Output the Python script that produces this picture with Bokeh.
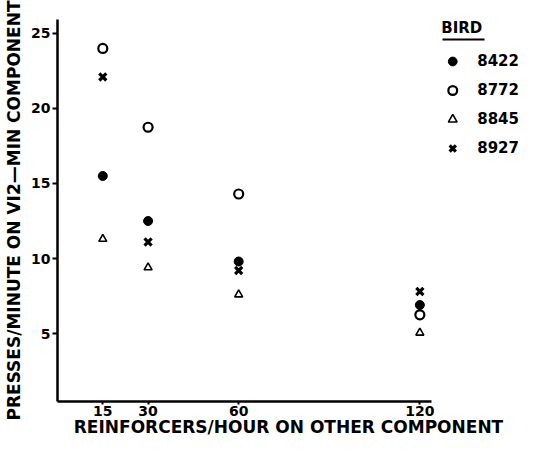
from bokeh.plotting import figure
from bokeh.models import (Range1d, LinearAxis, FixedTicker, Legend, LegendItem, BoxAnnotation)
from bokeh.embed import file_html
from bokeh.resources import INLINE

# ---- data ----
rates = [15, 30, 60, 120]
bird_8422 = [15.5, 12.5, 9.8, 6.9]
bird_8772 = [24.0, 18.75, 14.3, 6.25]
bird_8845 = [11.3, 9.4, 7.6, 5.05]
bird_8927 = [22.1, 11.1, 9.2, 7.8]
x_ticks = [15, 30, 60, 120]
y_ticks = [5, 10, 15, 20, 25]
bird_names = ["8422", "8772", "8845", "8927"]
x_title = "REINFORCERS/HOUR ON OTHER COMPONENT"
y_title = "PRESSES/MINUTE ON VI2\u2014MIN COMPONENT"

FONT = "DejaVu Sans"

p = figure(width=519, height=440, output_backend="svg", toolbar_location=None,
           x_range=Range1d(0, 153), y_range=Range1d(0.47, 25.93),
           x_axis_type=None, y_axis_type=None,
           min_border_left=57, min_border_right=0, min_border_top=19, min_border_bottom=39)
p.outline_line_color = None
p.xgrid.visible = False
p.ygrid.visible = False

xaxis = LinearAxis(bounds=(0, 124), ticker=FixedTicker(ticks=x_ticks), axis_label=x_title)
yaxis = LinearAxis(ticker=FixedTicker(ticks=y_ticks), axis_label=y_title)
for ax in (xaxis, yaxis):
    ax.axis_line_width = 2.5
    ax.axis_line_color = "black"
    ax.minor_tick_line_color = None
    ax.major_tick_in = 0
    ax.major_tick_line_width = 2
    ax.major_label_text_font = FONT
    ax.major_label_text_font_style = "bold"
    ax.major_label_text_font_size = "14px"
    ax.major_label_text_color = "black"
    ax.major_label_text_line_height = 1.0
    ax.axis_label_text_font = FONT
    ax.axis_label_text_font_style = "bold"
    ax.axis_label_text_color = "black"
    ax.axis_label_text_line_height = 1.0
yaxis.axis_label_text_font_size = "17px"
yaxis.axis_label_standoff = 4
xaxis.axis_label_text_font_size = "17px"
xaxis.axis_label_standoff = -2
xaxis.major_tick_out = 3
xaxis.major_label_standoff = 1
yaxis.major_tick_out = 5
yaxis.major_label_standoff = 2
p.add_layout(xaxis, "below")
p.add_layout(yaxis, "left")

r1 = p.scatter(rates, bird_8422, marker="circle", size=9, fill_color="black", line_color="black")
r2 = p.scatter(rates, bird_8772, marker="circle", size=9, fill_color="white", line_color="black", line_width=2.2)
r3 = p.scatter(rates, bird_8845, marker="triangle", size=8, fill_color=None, line_color="black", line_width=1.6)
r4 = p.scatter(rates, bird_8927, marker="x", size=10, line_color="black", line_width=3.2)

legend = Legend(items=[LegendItem(label=n, renderers=[r]) for n, r in
                       zip(bird_names, [r1, r2, r3, r4])],
                location="top_right", title="BIRD")
legend.margin = 0
legend.padding = 2
legend.border_line_color = None
legend.background_fill_alpha = 0
legend.title_text_font = FONT
legend.title_text_font_style = "bold"
legend.title_text_font_size = "15px"
legend.title_text_color = "black"
legend.title_standoff = 13
legend.label_text_font = FONT
legend.label_text_font_style = "bold"
legend.label_text_font_size = "15px"
legend.label_text_color = "black"
legend.glyph_width = 22
legend.glyph_height = 22
legend.label_height = 22
legend.label_standoff = 14
legend.spacing = 7
p.add_layout(legend)

# underline of the legend title (screen units, relative to the plot frame)
p.add_layout(BoxAnnotation(left=385, right=427, bottom=361, top=363,
                           left_units="screen", right_units="screen",
                           bottom_units="screen", top_units="screen",
                           fill_color="black", fill_alpha=1, line_color=None))

open("out.html", "w").write(file_html(p, INLINE))
